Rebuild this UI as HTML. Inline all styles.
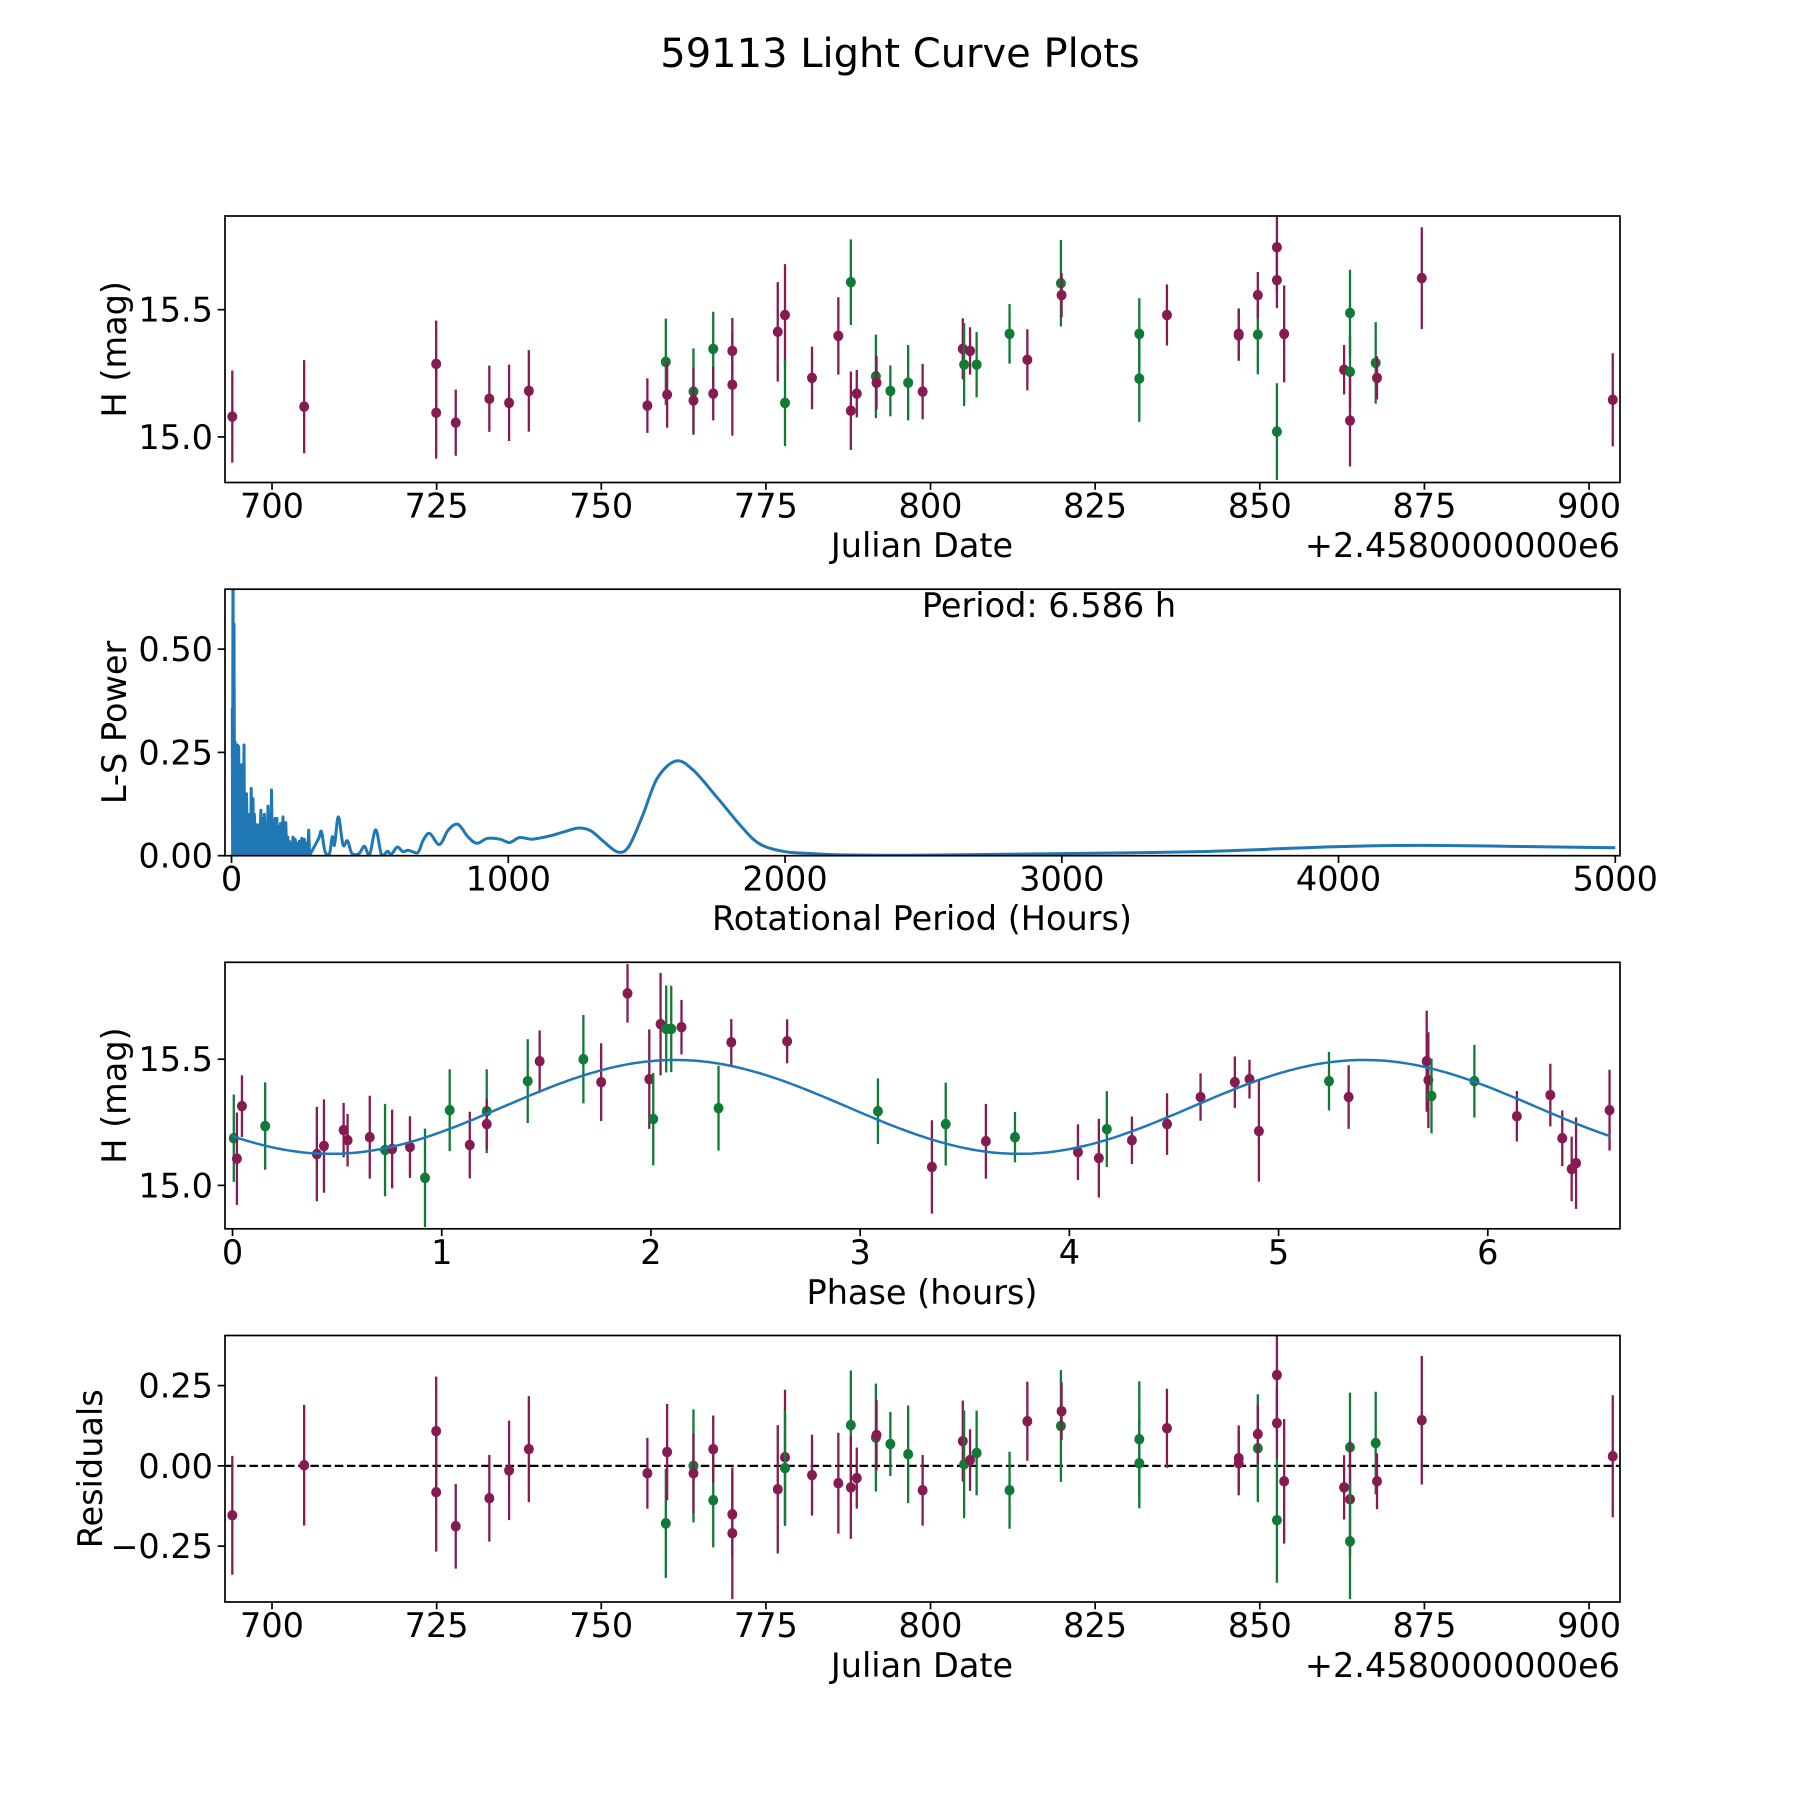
<!DOCTYPE html>
<html><head><meta charset="utf-8">
<style>
html,body{margin:0;padding:0;background:#fff;}
svg{display:block;font-family:"DejaVu Sans","Liberation Sans",sans-serif;}
</style></head>
<body>
<svg id="fig" width="1800" height="1800" viewBox="0 0 1800 1800" xmlns="http://www.w3.org/2000/svg">
<rect width="1800" height="1800" fill="#fff"/>
<text x="900" y="67" font-size="40" text-anchor="middle">59113 Light Curve Plots</text>
</svg>
<script>
// ---- Light curve data (panel 1) ----
const lcDates = [693.97,704.88,724.93,724.93,727.9,733.0,736.0,739.0,757.0,759.8,760.0,764.0,764.0,767.0,767.0,769.9,769.9,776.8,777.9,777.9,782.0,786.0,787.9,787.9,788.8,791.7,791.8,793.9,796.6,798.8,804.9,805.1,806.0,807.0,812.0,814.7,819.8,819.9,831.7,831.7,835.9,846.8,846.8,849.7,849.7,852.6,852.6,852.6,853.7,862.8,863.7,863.7,863.7,867.6,867.8,874.6,903.6];
const lcMags = [15.080,15.119,15.287,15.095,15.056,15.150,15.134,15.181,15.123,15.295,15.166,15.178,15.143,15.346,15.170,15.338,15.205,15.413,15.479,15.134,15.232,15.397,15.608,15.103,15.170,15.238,15.213,15.181,15.213,15.178,15.346,15.284,15.338,15.284,15.405,15.303,15.604,15.557,15.405,15.229,15.479,15.405,15.399,15.402,15.557,15.745,15.616,15.021,15.405,15.264,15.487,15.256,15.064,15.291,15.232,15.624,15.146];
const lcErrs = [0.181,0.183,0.17,0.18,0.13,0.13,0.15,0.16,0.107,0.17,0.13,0.17,0.13,0.146,0.105,0.13,0.2,0.195,0.2,0.17,0.123,0.152,0.168,0.154,0.093,0.164,0.105,0.1,0.148,0.109,0.12,0.163,0.093,0.128,0.117,0.12,0.17,0.087,0.14,0.17,0.12,0.1,0.1,0.156,0.091,0.18,0.11,0.19,0.19,0.097,0.17,0.14,0.18,0.16,0.085,0.2,0.183];
const lcBands = "MMMMMMMMMGMGMGMMMMMGMMGMMGMGGMMGMGGMGMGGMMMGMMMGMMGGMGMMM";

// ---- Residuals (panel 4) ----
const resDates = [693.97,704.88,724.93,724.93,727.9,733.0,736.0,739.0,757.0,759.8,760.0,764.0,764.0,767.0,767.0,769.9,769.9,776.8,777.9,777.9,782.0,786.0,787.9,787.9,788.8,791.7,791.8,793.9,796.6,798.8,804.9,805.1,806.0,807.0,812.0,814.7,819.8,819.9,831.7,831.7,835.9,846.8,846.8,849.7,849.7,852.6,852.6,852.6,853.7,862.8,863.7,863.7,863.7,867.6,867.8,874.6,903.6];
const resVals = [-0.154,0.002,0.108,-0.082,-0.188,-0.101,-0.014,0.052,-0.023,-0.179,0.043,0.0,-0.023,-0.107,0.052,-0.151,-0.21,-0.073,0.027,-0.007,-0.029,-0.054,0.127,-0.067,-0.038,0.088,0.096,0.068,0.036,-0.076,0.077,0.005,0.018,0.040,-0.076,0.139,0.124,0.170,0.083,0.008,0.117,0.024,0.008,0.055,0.099,0.283,0.133,-0.169,-0.048,-0.067,0.058,-0.104,-0.235,0.071,-0.048,0.142,0.030];
const resErrs = [0.185,0.188,0.17,0.185,0.132,0.135,0.155,0.165,0.11,0.17,0.15,0.176,0.124,0.147,0.105,0.13,0.205,0.2,0.21,0.18,0.126,0.157,0.17,0.16,0.095,0.168,0.11,0.1,0.152,0.11,0.126,0.168,0.096,0.132,0.12,0.123,0.174,0.09,0.18,0.14,0.123,0.102,0.1,0.168,0.093,0.18,0.11,0.195,0.194,0.1,0.17,0.18,0.18,0.16,0.087,0.2,0.19];
const resBands = "MMMMMMMMMGMGMGMMMMMGMMGMMGMGGMMGMGGMGMGGMMMGMMMGMMGMGGMMM";

// ---- Folded phase data (panel 3) ----
const phHours = [0.006,0.021,0.045,0.156,0.403,0.437,0.531,0.550,0.656,0.729,0.763,0.848,0.920,1.038,1.134,1.215,1.215,1.411,1.468,1.677,1.762,1.888,1.992,2.011,2.046,2.073,2.097,2.146,2.323,2.384,2.651,3.085,3.343,3.409,3.601,3.740,4.041,4.141,4.179,4.299,4.467,4.627,4.791,4.861,4.906,5.241,5.335,5.708,5.716,5.731,5.936,6.139,6.299,6.356,6.401,6.422,6.582];
const phMags = [15.187,15.106,15.314,15.235,15.124,15.156,15.219,15.179,15.191,15.140,15.144,15.152,15.030,15.298,15.160,15.294,15.243,15.413,15.492,15.500,15.409,15.761,15.421,15.263,15.639,15.620,15.620,15.627,15.306,15.567,15.571,15.294,15.073,15.243,15.175,15.191,15.132,15.108,15.223,15.179,15.243,15.350,15.409,15.421,15.215,15.413,15.350,15.492,15.417,15.354,15.413,15.274,15.358,15.187,15.065,15.088,15.298];
const phErrs = [0.173,0.183,0.122,0.173,0.187,0.185,0.108,0.104,0.164,0.183,0.156,0.122,0.195,0.162,0.132,0.166,0.1,0.166,0.122,0.175,0.154,0.116,0.197,0.183,0.203,0.172,0.171,0.108,0.168,0.092,0.087,0.13,0.185,0.164,0.148,0.1,0.11,0.156,0.15,0.094,0.122,0.094,0.102,0.077,0.2,0.116,0.126,0.2,0.19,0.148,0.144,0.1,0.124,0.11,0.128,0.181,0.16];
const phBands = "GMMGMMMMMGMMGGMGMGMGMMMGMGGMGMMGMGMGMMGMMMMMMGMMMGGMMMMMM";
const fitPeriod = 6.586, fitMean = 15.311, fitAmp = 0.186, fitPeak = 2.116;

// ---- Periodogram (panel 2) ----
const lsSpikePeriods = [2.6,5.2,9,12.9,16.8,21.9,25.8,31,34.8,38.7,45.2,49,54.2,60.6,67,71,77.4,82.6,90.3,95.5,106,112,118.7,125,131.6,138,144.5,151,157,164,170,177,186,191,196,203,209,215,222,230,237,245,254,263,271,279];
const lsSpikePowers = [0.357,0.80,0.56,0.276,0.25,0.268,0.264,0.155,0.22,0.127,0.268,0.12,0.15,0.1,0.09,0.163,0.138,0.1,0.075,0.074,0.11,0.09,0.1,0.075,0.12,0.07,0.159,0.08,0.09,0.09,0.07,0.078,0.094,0.06,0.08,0.045,0.035,0.03,0.045,0.04,0.03,0.035,0.042,0.04,0.03,0.062];
const lsPeriods = [286,315,325,338,354,364,372,386,403,419,435,461,480,499,521,542,564,577,599,619,637,654,674,693,716,751,783,818,854,886,925,970,1005,1041,1086,1151,1203,1254,1299,1345,1396,1435,1486,1538,1605,1667,1757,1848,1912,2000,2100,2200,2400,2600,3000,3500,4000,4300,4700,5000];
const lsPowers = [0.0056,0.042,0.058,0.0097,0.0056,0.046,0.026,0.094,0.026,0.036,0.0056,0.0056,0.023,0.003,0.063,0.003,0.011,0.003,0.021,0.01,0.013,0.01,0.008,0.038,0.054,0.027,0.062,0.076,0.046,0.03,0.042,0.04,0.032,0.044,0.04,0.048,0.058,0.067,0.06,0.034,0.009,0.022,0.098,0.187,0.229,0.208,0.139,0.066,0.027,0.0097,0.005,0.002,0.001,0.002,0.005,0.01,0.022,0.025,0.022,0.019];
const lsTroughPower = 0.003;

const xTicksDate = [700,725,750,775,800,825,850,875,900];
const yTicksMag = [15.0,15.5];
const yTickLabelsMag = ["15.0","15.5"];
const xTicksPower = [0,1000,2000,3000,4000,5000];
const yTicksPower = [0,0.25,0.5];
const yTickLabelsPower = ["0.00","0.25","0.50"];
const xTicksPhase = [0,1,2,3,4,5,6];
const yTicksRes = [-0.25,0,0.25];
const yTickLabelsRes = ["\u22120.25","0.00","0.25"];

const NS = "http://www.w3.org/2000/svg";
const svg = document.getElementById('fig');
const MAROON = "#861b52", GREEN = "#117a35", BLUE = "#1f77b4";
const X0 = 225, X1 = 1620, PH = 266.5;
const TOPS = [216, 589.2, 962.3, 1335.5];
const FS = 33.5;

function mk(tag, attrs, parent) {
  const e = document.createElementNS(NS, tag);
  for (const k in attrs) e.setAttribute(k, attrs[k]);
  (parent || svg).appendChild(e);
  return e;
}
function scale(d0, d1, r0, r1) { return v => r0 + (v - d0) / (d1 - d0) * (r1 - r0); }

function makeAxes(i, xlim, ylim, name) {
  const top = TOPS[i], bot = top + PH;
  const g = mk('g', {});
  
  
  const cid = 'clip' + i;
  const cp = mk('clipPath', {id: cid}, g);
  mk('rect', {x: X0, y: top, width: X1 - X0, height: PH}, cp);
  const plot = mk('g', {'clip-path': 'url(#' + cid + ')'}, g);
  return {g, plot, top, bot, sx: scale(xlim[0], xlim[1], X0, X1), sy: scale(ylim[0], ylim[1], bot, top)};
}
function frame(ax) {
  const r = mk('rect', {x: X0, y: ax.top, width: X1 - X0, height: PH, fill: 'none', stroke: '#000', 'stroke-width': 1.7}, ax.g);
  
  
}
function xticks(ax, ticks, labels, name) {
  const g = mk('g', {}, ax.g);
  
  
  ticks.forEach((t, k) => {
    const x = ax.sx(t);
    mk('line', {x1: x, x2: x, y1: ax.bot, y2: ax.bot + 7.3, stroke: '#000', 'stroke-width': 1.7}, g);
    const tx = mk('text', {x: x, y: ax.bot + 35, 'font-size': FS, 'text-anchor': 'middle'}, g);
    tx.textContent = labels ? labels[k] : String(t);
  });
}
function yticks(ax, ticks, labels, name) {
  const g = mk('g', {}, ax.g);
  
  
  ticks.forEach((t, k) => {
    const y = ax.sy(t);
    mk('line', {x1: X0 - 7.3, x2: X0, y1: y, y2: y, stroke: '#000', 'stroke-width': 1.7}, g);
    const tx = mk('text', {x: X0 - 12, y: y + 12, 'font-size': FS, 'text-anchor': 'end'}, g);
    tx.textContent = labels[k];
  });
}
function label(txt, x, y, name, rot) {
  const t = mk('text', {x: x, y: y, 'font-size': FS, 'text-anchor': (name === 'x-offset-label' ? 'end' : 'middle')});
  if (rot) t.setAttribute('transform', 'rotate(-90 ' + x + ' ' + y + ')');
  t.textContent = txt;
  
  
  return t;
}
function errPoints(ax, xs, ys, es, bands, name) {
  const g = mk('g', {}, ax.plot);
  
  
  xs.forEach((xv, k) => {
    const col = bands[k] === 'G' ? GREEN : MAROON;
    const x = ax.sx(xv), y = ax.sy(ys[k]);
    const pt = mk('g', {}, g);
    
    
    mk('line', {x1: x, x2: x, y1: ax.sy(ys[k] + es[k]), y2: ax.sy(ys[k] - es[k]), stroke: col, 'stroke-width': 2.3}, pt);
    mk('ellipse', {cx: x, cy: y, rx: 5, ry: 5.3, fill: col}, pt);
  });
}

// Panel 1
const a1 = makeAxes(0, [692.86, 904.7], [14.821, 15.868], 'light-curve-panel');
errPoints(a1, lcDates, lcMags, lcErrs, lcBands, 'light-curve-points');
frame(a1);
xticks(a1, xTicksDate, null, 'date-x-ticks');
yticks(a1, yTicksMag, yTickLabelsMag, 'mag-y-ticks');
label('Julian Date', 922, 557, 'x-axis-title');
label('+2.4580000000e6', 1620, 557, 'x-offset-label');
label('H (mag)', 126, TOPS[0] + PH / 2, 'y-axis-title', true);

// Panel 2
const a2 = makeAxes(1, [-23.6, 5017], [0, 0.645], 'periodogram-panel');
{
  let d = '';
  lsSpikePeriods.forEach((p, k) => {
    const x = a2.sx(p), y = a2.sy(lsSpikePowers[k]);
    d += (k === 0 ? 'M' : 'L') + x.toFixed(1) + ',' + y.toFixed(1);
    const nx = k + 1 < lsSpikePeriods.length ? (p + lsSpikePeriods[k + 1]) / 2 : p + 3;
    d += 'L' + a2.sx(nx).toFixed(1) + ',' + a2.sy(lsTroughPower).toFixed(1);
  });
  // smooth Catmull-Rom through the continuous part
  const pts = lsPeriods.map((p, k) => [a2.sx(p), a2.sy(lsPowers[k])]);
  d += 'L' + pts[0][0].toFixed(1) + ',' + pts[0][1].toFixed(1);
  for (let k = 0; k < pts.length - 1; k++) {
    const p0 = pts[Math.max(k - 1, 0)], p1 = pts[k], p2 = pts[k + 1], p3 = pts[Math.min(k + 2, pts.length - 1)];
    const c1x = p1[0] + (p2[0] - p0[0]) / 6, c1y = p1[1] + (p2[1] - p0[1]) / 6;
    const c2x = p2[0] - (p3[0] - p1[0]) / 6, c2y = p2[1] - (p3[1] - p1[1]) / 6;
    d += 'C' + c1x.toFixed(1) + ',' + c1y.toFixed(1) + ' ' + c2x.toFixed(1) + ',' + c2y.toFixed(1) + ' ' + p2[0].toFixed(1) + ',' + p2[1].toFixed(1);
  }
  const path = mk('path', {d: d, fill: 'none', stroke: BLUE, 'stroke-width': 3, 'stroke-linejoin': 'round'}, a2.plot);
  
  
}
frame(a2);
xticks(a2, xTicksPower, null, 'period-x-ticks');
yticks(a2, yTicksPower, yTickLabelsPower, 'power-y-ticks');
label('Rotational Period (Hours)', 922, 930, 'x-axis-title');
label('L-S Power', 126, TOPS[1] + PH / 2, 'y-axis-title', true);
{
  const t = mk('text', {x: 1049, y: 617, 'font-size': FS, 'text-anchor': 'middle'});
  t.textContent = 'Period: 6.586 h';
  
  
}

// Panel 3
const a3 = makeAxes(2, [-0.036, 6.632], [14.828, 15.884], 'phase-panel');
errPoints(a3, phHours, phMags, phErrs, phBands, 'phase-points');
{
  let d = '';
  const N = 300;
  for (let k = 0; k <= N; k++) {
    const p = fitPeriod * k / N;
    const m = fitMean + fitAmp * Math.cos(2 * Math.PI * (p - fitPeak) / (fitPeriod / 2));
    d += (k ? 'L' : 'M') + a3.sx(p).toFixed(1) + ',' + a3.sy(m).toFixed(1);
  }
  const path = mk('path', {d: d, fill: 'none', stroke: BLUE, 'stroke-width': 2.5}, a3.plot);
  
  
}
frame(a3);
xticks(a3, xTicksPhase, null, 'phase-x-ticks');
yticks(a3, yTicksMag, yTickLabelsMag, 'mag-y-ticks');
label('Phase (hours)', 922, 1304, 'x-axis-title');
label('H (mag)', 126, TOPS[2] + PH / 2, 'y-axis-title', true);

// Panel 4
const a4 = makeAxes(3, [692.86, 904.7], [-0.424, 0.406], 'residuals-panel');
{
  const z = a4.sy(0);
  const l = mk('line', {x1: X0, x2: X1, y1: z, y2: z, stroke: '#000', 'stroke-width': 2.3, 'stroke-dasharray': '8.5,3.7'}, a4.plot);
  
  
}
errPoints(a4, resDates, resVals, resErrs, resBands, 'residual-points');
frame(a4);
xticks(a4, xTicksDate, null, 'date-x-ticks');
yticks(a4, yTicksRes, yTickLabelsRes, 'residual-y-ticks');
label('Julian Date', 922, 1677, 'x-axis-title');
label('+2.4580000000e6', 1620, 1677, 'x-offset-label');
label('Residuals', 102, TOPS[3] + PH / 2, 'y-axis-title', true);
</script>
</body></html>
